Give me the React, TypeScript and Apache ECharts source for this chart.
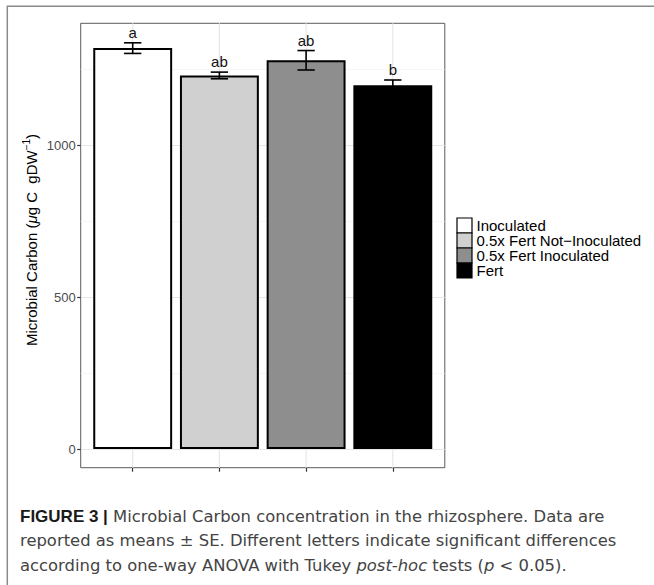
import React, { useEffect, useRef } from 'react';
import * as echarts from 'echarts';

// ---- data ----
const categories = ['Inoculated', '0.5x Fert Not\u2212Inoculated', '0.5x Fert Inoculated', 'Fert'];
const means = [1320, 1230, 1280, 1198];
const se = [17.5, 11, 32, 17];
const letters = ['a', 'ab', 'ab', 'b'];
const yMin = 0;
const yMax = 1500;
const yInterval = 500;

const captionLines = [
  '{b|FIGURE 3 |} Microbial Carbon concentration in the rhizosphere. Data are',
  'reported as means \u00b1 SE. Different letters indicate significant differences',
  'according to one-way ANOVA with Tukey {i|post-hoc} tests ({i|p} < 0.05).',
];

// ---- styles / layout ----
const fills = ['#ffffff', '#cfd0cf', '#8e8e8e', '#000000'];
const FONT = '"Liberation Sans", Arial, Helvetica, sans-serif';
const CAPTION_FONT = '"DejaVu Sans", "Liberation Sans", sans-serif';
const PANEL_LEFT = 80.7;
const PANEL_RIGHT = 444.8;
const PANEL_TOP = 23.3;
const PANEL_BOTTOM = 467.7;
const BAND = 86.7; // width of one category band, px
const FIRST_CENTER = 132.7;
const ZERO_Y = 449;
const PX_PER_UNIT = 0.3037;

export default function App() {
  const ref = useRef<HTMLDivElement>(null);

  useEffect(() => {
    if (!ref.current) return;
    const chart = echarts.init(ref.current, null, { renderer: 'svg' });

    const gridATop = ZERO_Y - (yMax - yMin) * PX_PER_UNIT;
    const panelWidth = PANEL_RIGHT - PANEL_LEFT;
    const catLeft = FIRST_CENTER - BAND / 2;
    const catWidth = BAND * categories.length;

    const legendChildren: any[] = [];
    categories.forEach((c, i) => {
      legendChildren.push({
        type: 'rect',
        shape: { x: 457, y: 218 + i * 15, width: 15, height: 15 },
        style: { fill: fills[i], stroke: '#000', lineWidth: 1.2 },
      });
      legendChildren.push({
        type: 'text',
        x: 476.5,
        y: 218 + i * 15 + 7.5,
        style: {
          text: c,
          fill: '#000',
          fontSize: 15,
          lineHeight: 13,
          fontFamily: FONT,
          verticalAlign: 'middle',
          align: 'left',
        },
      });
    });

    const captionChildren = captionLines.map((t, i) => ({
      type: 'text',
      x: 20,
      y: 516 + i * 24.5,
      style: {
        text: t,
        fill: '#444',
        fontSize: 16.4,
        fontFamily: CAPTION_FONT,
        verticalAlign: 'middle',
        align: 'left',
        rich: {
          b: { fontWeight: 'bold', fill: '#1a1a1a', fontSize: 17, fontFamily: FONT },
          i: { fontStyle: 'italic', fill: '#444', fontSize: 16.4, fontFamily: CAPTION_FONT },
        },
      },
    }));

    const option: any = {
      animation: false,
      textStyle: { fontFamily: FONT },
      grid: [
        // 0: y scale, full panel width (labels, ticks, horizontal grid lines)
        {
          left: PANEL_LEFT,
          top: gridATop,
          width: panelWidth,
          height: ZERO_Y - gridATop,
          outerBoundsMode: 'none',
          containLabel: false,
        },
        // 1: bars
        {
          left: catLeft,
          top: gridATop,
          width: catWidth,
          height: ZERO_Y - gridATop,
          outerBoundsMode: 'none',
          containLabel: false,
        },
        // 2: x ticks + vertical grid lines over full panel height
        {
          left: catLeft,
          top: PANEL_TOP,
          width: catWidth,
          height: PANEL_BOTTOM - PANEL_TOP,
          outerBoundsMode: 'none',
          containLabel: false,
        },
      ],
      xAxis: [
        { gridIndex: 0, type: 'value', min: 0, max: 1, show: false },
        { gridIndex: 1, type: 'category', data: categories, show: false },
        {
          gridIndex: 2,
          type: 'category',
          data: categories,
          axisLine: { show: false },
          axisTick: {
            show: true,
            interval: 0,
            alignWithLabel: true,
            length: 4,
            lineStyle: { color: '#333', width: 1.2 },
          },
          axisLabel: { show: true, interval: 0, formatter: () => '' },
          splitLine: { show: false },
        },
      ],
      yAxis: [
        {
          gridIndex: 0,
          type: 'value',
          min: yMin,
          max: yMax,
          interval: yInterval,
          axisLine: { show: false },
          axisTick: { show: true, length: 3.5, lineStyle: { color: '#333', width: 1.2 } },
          axisLabel: {
            color: '#4d4d4d',
            fontSize: 13,
            margin: 5,
            fontFamily: FONT,
            showMaxLabel: false,
            formatter: (v: number) => (v >= yMax ? '' : String(v)),
          },
          splitLine: { show: true, lineStyle: { color: '#e6e6e6', width: 1.1 } },
          minorTick: { show: false, splitNumber: 2 },
          minorSplitLine: { show: true, lineStyle: { color: '#f2f2f2', width: 0.7 } },
        },
        { gridIndex: 1, type: 'value', min: yMin, max: yMax, show: false },
        { gridIndex: 2, type: 'value', min: 0, max: 1, show: false },
      ],
      graphic: [
        {
          type: 'rect',
          shape: { x: 7.3, y: 6.3, width: 720, height: 720 },
          style: { fill: 'none', stroke: '#8a8a8a', lineWidth: 1.5 },
          silent: true,
        },
        {
          type: 'rect',
          shape: { x: PANEL_LEFT, y: PANEL_TOP, width: panelWidth, height: PANEL_BOTTOM - PANEL_TOP },
          style: { fill: 'none', stroke: '#5a5a5a', lineWidth: 1 },
          silent: true,
        },
        {
          type: 'text',
          x: 30,
          y: 240,
          rotation: Math.PI / 2,
          style: {
            text: '{n|Microbial Carbon (}{i|\u03bc}{n|g C  gDW}{s|\u22121}{n|)}',
            align: 'center',
            verticalAlign: 'middle',
            fill: '#000',
            fontFamily: FONT,
            fontSize: 15,
            rich: {
              n: { fontSize: 15, fill: '#000', fontFamily: FONT, lineHeight: 18, verticalAlign: 'bottom' },
              i: { fontSize: 15, fill: '#000', fontStyle: 'italic', fontFamily: FONT, lineHeight: 18, verticalAlign: 'bottom' },
              s: { fontSize: 10, fill: '#000', fontFamily: FONT, lineHeight: 18, verticalAlign: 'top' },
            },
          },
        },
        { type: 'group', children: legendChildren },
        { type: 'group', children: captionChildren },
      ],
      series: [
        {
          type: 'custom',
          name: 'vgrid',
          xAxisIndex: 2,
          yAxisIndex: 2,
          z: 1,
          silent: true,
          data: categories.map((_, i) => [i, 0]),
          renderItem: (params: any, api: any) => {
            const x = api.coord([api.value(0), 0])[0];
            const cs = params.coordSys;
            return {
              type: 'line',
              shape: { x1: x, y1: cs.y, x2: x, y2: cs.y + cs.height },
              style: { stroke: '#e6e6e6', lineWidth: 1.1 },
            };
          },
        },
        {
          type: 'bar',
          name: 'Microbial Carbon',
          xAxisIndex: 1,
          yAxisIndex: 1,
          barWidth: '91%',
          z: 2,
          data: means.map((v, i) => ({
            value: v,
            itemStyle: { color: fills[i], borderColor: '#000', borderWidth: 2 },
          })),
        },
        {
          type: 'custom',
          name: 'SE',
          xAxisIndex: 1,
          yAxisIndex: 1,
          z: 3,
          data: means.map((m, i) => [i, m - se[i], m + se[i]]),
          encode: { x: 0, y: [1, 2] },
          renderItem: (params: any, api: any) => {
            const idx = api.value(0);
            const lo = api.coord([idx, api.value(1)]);
            const hi = api.coord([idx, api.value(2)]);
            const half = api.size([1, 0])[0] * 0.1;
            const st = { stroke: '#000', lineWidth: 1.6 };
            return {
              type: 'group',
              children: [
                { type: 'line', shape: { x1: hi[0], y1: hi[1], x2: lo[0], y2: lo[1] }, style: st },
                { type: 'line', shape: { x1: hi[0] - half, y1: hi[1], x2: hi[0] + half, y2: hi[1] }, style: st },
                { type: 'line', shape: { x1: lo[0] - half, y1: lo[1], x2: lo[0] + half, y2: lo[1] }, style: st },
                {
                  type: 'text',
                  x: hi[0],
                  y: hi[1] - 10.5,
                  style: {
                    text: letters[params.dataIndex],
                    fill: '#111',
                    fontSize: 15,
                    fontFamily: FONT,
                    align: 'center',
                    verticalAlign: 'middle',
                  },
                },
              ],
            };
          },
        },
      ],
    };

    chart.setOption(option);
    return () => {
      chart.dispose();
    };
  }, []);

  return (
    <div
      ref={ref}
      style={{ position: 'fixed', left: 0, top: 0, width: 654, height: 585, background: '#ffffff' }}
    />
  );
}
